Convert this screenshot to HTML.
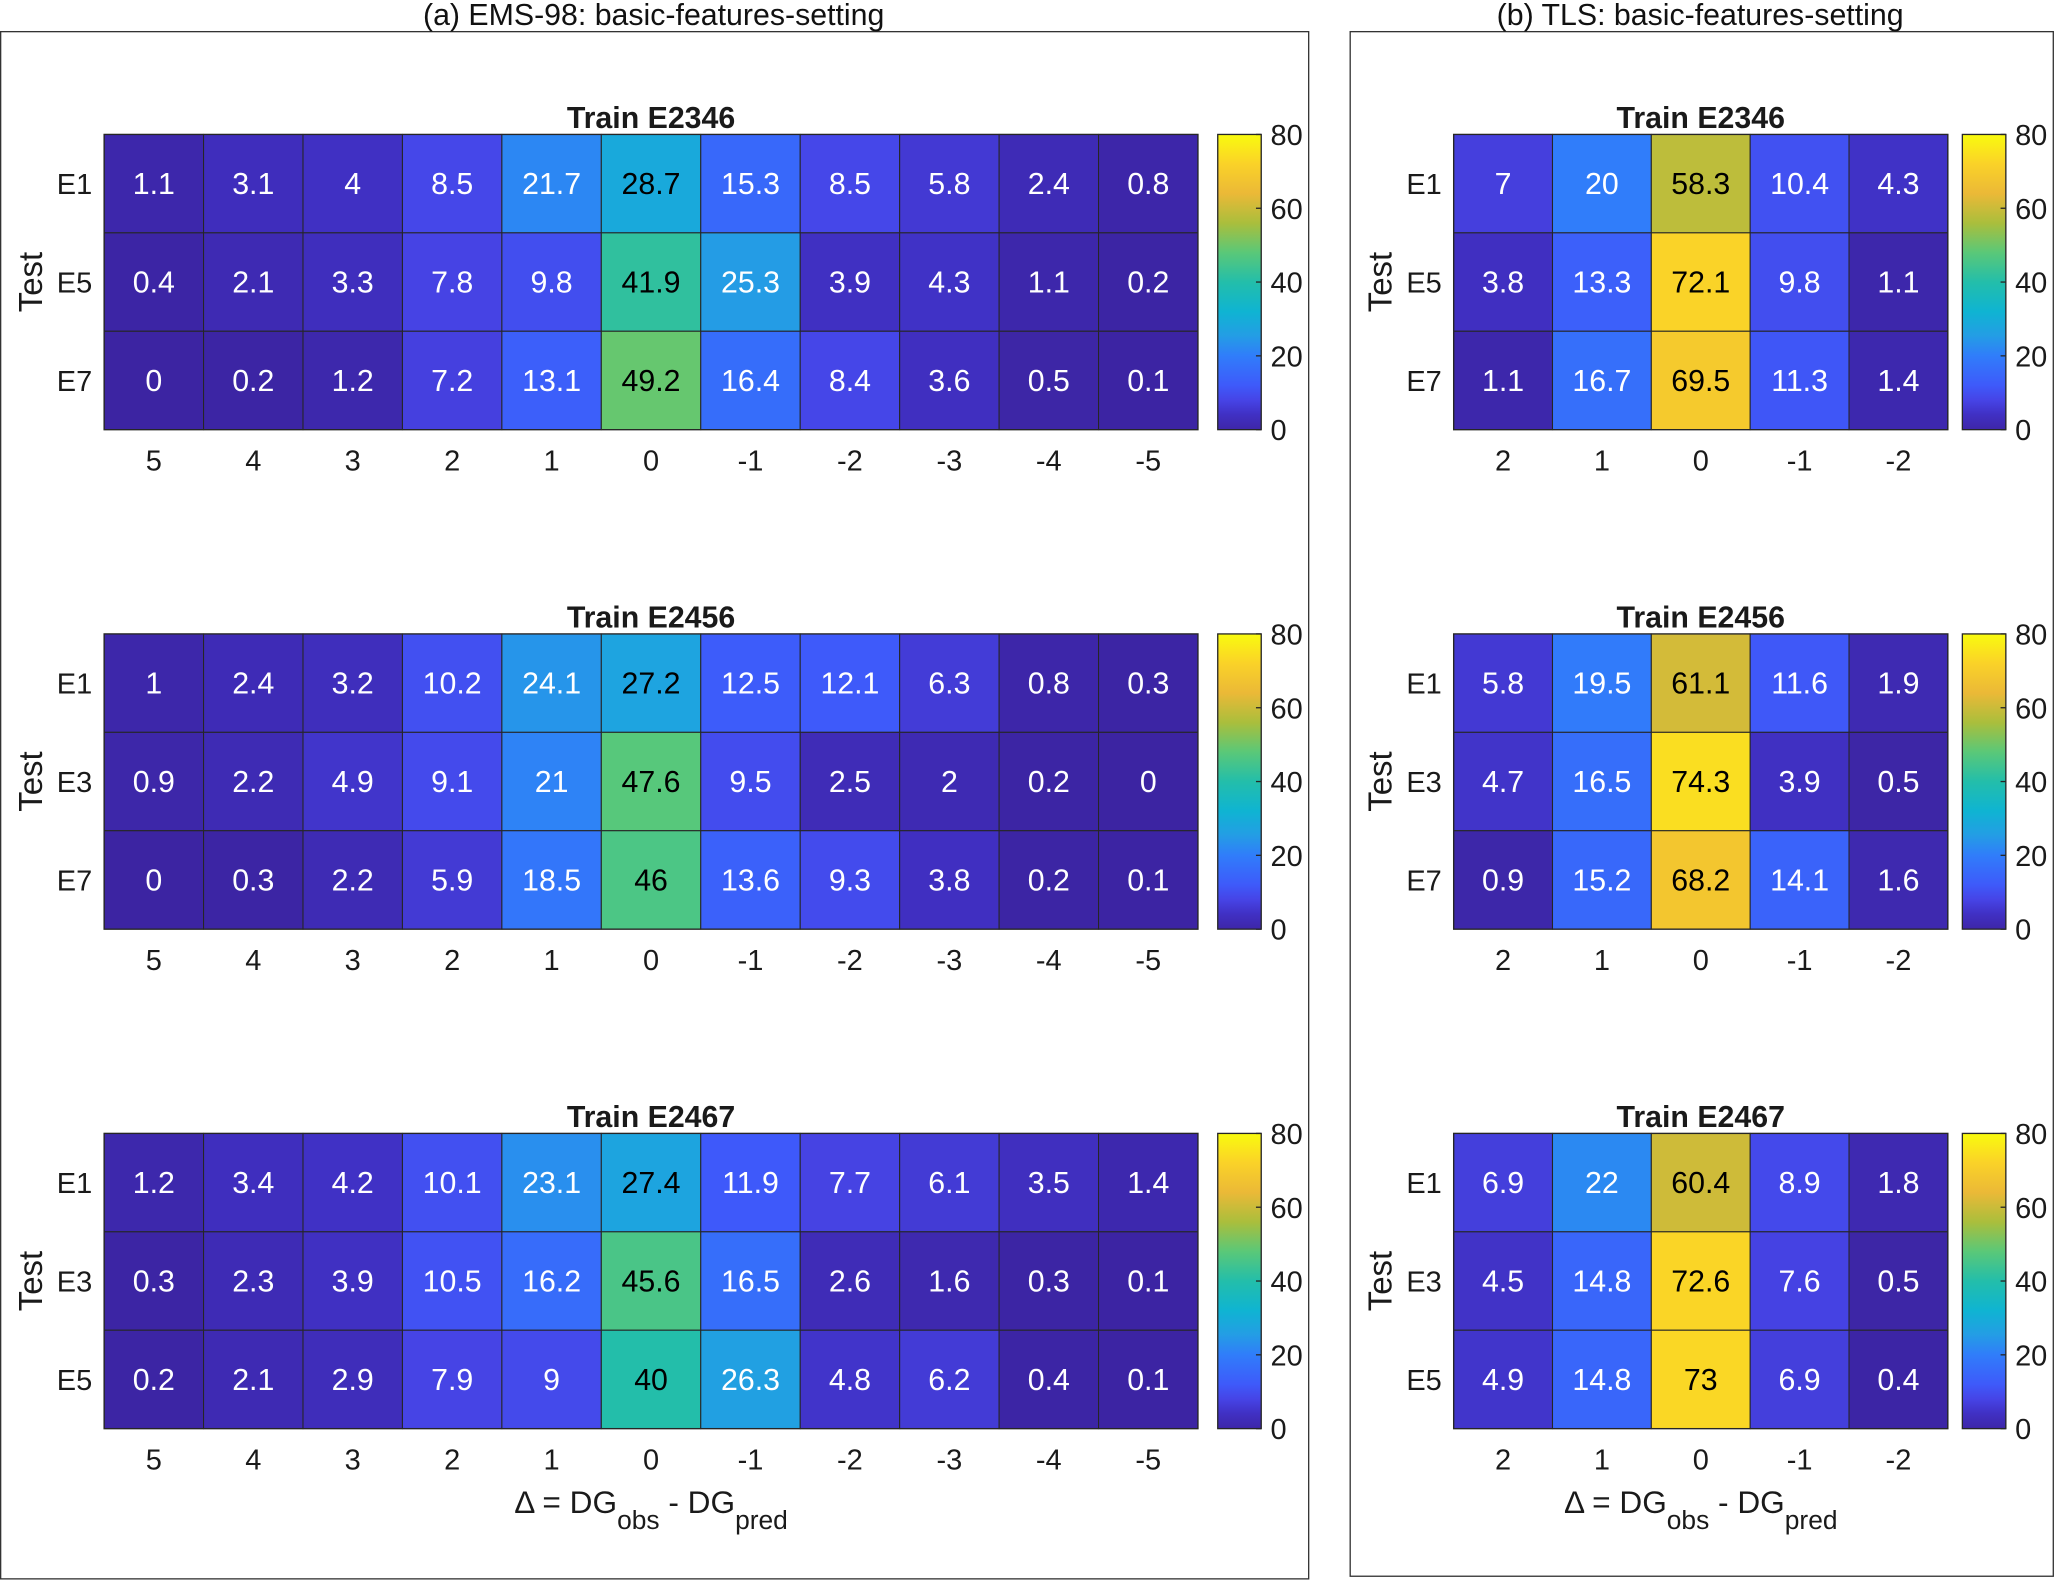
<!DOCTYPE html>
<html><head><meta charset="utf-8"><style>
html,body{margin:0;padding:0;background:#fff}
svg{display:block}
text{font-family:"Liberation Sans",Arial,sans-serif}
</style></head><body>
<svg id="fig" width="2067" height="1581" viewBox="0 0 1568.4 1199.6" xmlns="http://www.w3.org/2000/svg">
<defs>
<linearGradient id="parula" x1="0" y1="1" x2="0" y2="0">
<stop offset="0" stop-color="rgb(62,38,168)"/>
<stop offset="0.05" stop-color="rgb(64,48,195)"/>
<stop offset="0.1" stop-color="rgb(70,68,230)"/>
<stop offset="0.15" stop-color="rgb(62,90,250)"/>
<stop offset="0.25" stop-color="rgb(48,125,250)"/>
<stop offset="0.32" stop-color="rgb(35,158,228)"/>
<stop offset="0.4" stop-color="rgb(15,180,210)"/>
<stop offset="0.5" stop-color="rgb(35,190,170)"/>
<stop offset="0.6" stop-color="rgb(90,200,120)"/>
<stop offset="0.7" stop-color="rgb(170,190,60)"/>
<stop offset="0.8" stop-color="rgb(235,185,55)"/>
<stop offset="0.9" stop-color="rgb(250,210,40)"/>
<stop offset="1" stop-color="rgb(249,251,14)"/>
</linearGradient>
</defs>
<rect x="0.5" y="24" width="992.5" height="1174" fill="none" stroke="#333" stroke-width="1"/>
<rect x="1024.5" y="24" width="533.5" height="1172" fill="none" stroke="#333" stroke-width="1"/>
<text x="496" y="19" font-size="23" text-anchor="middle" fill="#111">(a) EMS-98: basic-features-setting</text>
<text x="1290" y="19" font-size="23" text-anchor="middle" fill="#111">(b) TLS: basic-features-setting</text>
<g id="plots"></g>
</svg>
<script>
const leftCats = [5,4,3,2,1,0,-1,-2,-3,-4,-5];
const rightCats = [2,1,0,-1,-2];
const trainTitles = ["Train E2346","Train E2456","Train E2467"];
const rowLabels = [["E1","E5","E7"],["E1","E3","E7"],["E1","E3","E5"]];
const cbTicks = [0,20,40,60,80];
const leftP1 = [[1.1,3.1,4,8.5,21.7,28.7,15.3,8.5,5.8,2.4,0.8],[0.4,2.1,3.3,7.8,9.8,41.9,25.3,3.9,4.3,1.1,0.2],[0,0.2,1.2,7.2,13.1,49.2,16.4,8.4,3.6,0.5,0.1]];
const leftP2 = [[1,2.4,3.2,10.2,24.1,27.2,12.5,12.1,6.3,0.8,0.3],[0.9,2.2,4.9,9.1,21,47.6,9.5,2.5,2,0.2,0],[0,0.3,2.2,5.9,18.5,46,13.6,9.3,3.8,0.2,0.1]];
const leftP3 = [[1.2,3.4,4.2,10.1,23.1,27.4,11.9,7.7,6.1,3.5,1.4],[0.3,2.3,3.9,10.5,16.2,45.6,16.5,2.6,1.6,0.3,0.1],[0.2,2.1,2.9,7.9,9,40,26.3,4.8,6.2,0.4,0.1]];
const rightP1 = [[7,20,58.3,10.4,4.3],[3.8,13.3,72.1,9.8,1.1],[1.1,16.7,69.5,11.3,1.4]];
const rightP2 = [[5.8,19.5,61.1,11.6,1.9],[4.7,16.5,74.3,3.9,0.5],[0.9,15.2,68.2,14.1,1.6]];
const rightP3 = [[6.9,22,60.4,8.9,1.8],[4.5,14.8,72.6,7.6,0.5],[4.9,14.8,73,6.9,0.4]];
const leftData = [leftP1,leftP2,leftP3];
const rightData = [rightP1,rightP2,rightP3];

const NS="http://www.w3.org/2000/svg";
const root=document.getElementById('plots');
const stops=[[0,60,36,162],[0.05,64,48,195],[0.1,70,68,230],[0.15,62,90,250],[0.25,48,125,250],[0.32,35,158,228],[0.4,15,180,210],[0.5,35,190,170],[0.6,90,200,120],[0.7,170,190,60],[0.8,235,185,55],[0.9,250,210,40],[1,249,251,14]];
function cmap(v){let t=Math.max(0,Math.min(1,v/80));for(let i=1;i<stops.length;i++){if(t<=stops[i][0]){const a=stops[i-1],b=stops[i];const f=(t-a[0])/(b[0]-a[0]);return `rgb(${[1,2,3].map(k=>Math.round(a[k]+f*(b[k]-a[k]))).join(',')})`;}}return 'rgb(249,251,14)';}
function mk(tag,attrs,parent,txt){const e=document.createElementNS(NS,tag);for(const k in attrs)e.setAttribute(k,attrs[k]);if(txt!==undefined)e.textContent=txt;(parent||root).appendChild(e);return e;}
const panelTops=[102,481,860];
function drawPanel(x0,x1,cats,data,pi,side,cbx,showXlabel){
  const y0=panelTops[pi],y1=y0+224;
  const g=mk('g',{});
  
  
  const cw=(x1-x0)/cats.length,rh=(y1-y0)/3;
  const xs=i=>x0+i*cw, ys=j=>y0+j*rh;
  data.forEach((row,j)=>row.forEach((v,i)=>{
    const r=mk('rect',{x:xs(i),y:ys(j),width:cw,height:rh,fill:cmap(v),stroke:'#262626','stroke-width':0.8},g);
    
    
    const t=mk('text',{x:xs(i)+cw/2,y:ys(j)+rh/2+8,'font-size':23,'text-anchor':'middle',fill:v>=27?'#000':'#fff'},g,String(v));
    
    
  }));
  mk('rect',{x:x0,y:y0,width:x1-x0,height:y1-y0,fill:'none',stroke:'#262626','stroke-width':1},g);
  const tt=mk('text',{x:(x0+x1)/2,y:y0-5,'font-size':23,'font-weight':'bold','text-anchor':'middle',fill:'#1a1a1a'},g,trainTitles[pi]);
  
  
  cats.forEach((c,i)=>{const t=mk('text',{x:xs(i)+cw/2,y:y1+31,'font-size':22,'text-anchor':'middle',fill:'#1a1a1a'},g,String(c));
    
    });
  rowLabels[pi].forEach((l,j)=>{const t=mk('text',{x:x0-9,y:ys(j)+rh/2+8,'font-size':22,'text-anchor':'end',fill:'#1a1a1a'},g,l);
    
    });
  const yt=mk('text',{x:0,y:0,'font-size':25,'text-anchor':'middle',fill:'#1a1a1a',transform:`translate(${x0-47},${(y0+y1)/2}) rotate(-90)`},g,'Test');
  
  
  const cb=mk('g',{},g);
  
  
  mk('rect',{x:cbx,y:y0,width:33,height:y1-y0,fill:'url(#parula)',stroke:'#262626','stroke-width':1},cb);
  const cy=v=>y1-(v/80)*(y1-y0);
  cbTicks.forEach(v=>{mk('line',{x1:cbx+29,x2:cbx+33,y1:cy(v),y2:cy(v),stroke:'#262626','stroke-width':1},cb);
    const t=mk('text',{x:cbx+40,y:cy(v)+8,'font-size':22,fill:'#1a1a1a'},cb,String(v));
    
    });
  if(showXlabel){
    const xl=mk('text',{x:(x0+x1)/2,y:y1+64,'font-size':24,'text-anchor':'middle',fill:'#1a1a1a'},g);
    
    
    mk('tspan',{},xl,'\u0394 = DG');
    mk('tspan',{dy:12,'font-size':20},xl,'obs');
    mk('tspan',{dy:-12},xl,' - DG');
    mk('tspan',{dy:12,'font-size':20},xl,'pred');
  }
}
for(let p=0;p<3;p++){
  drawPanel(79,909,leftCats,leftData[p],p,'left',924,p===2);
  drawPanel(1103,1478,rightCats,rightData[p],p,'right',1489,p===2);
}
</script>
</body></html>
